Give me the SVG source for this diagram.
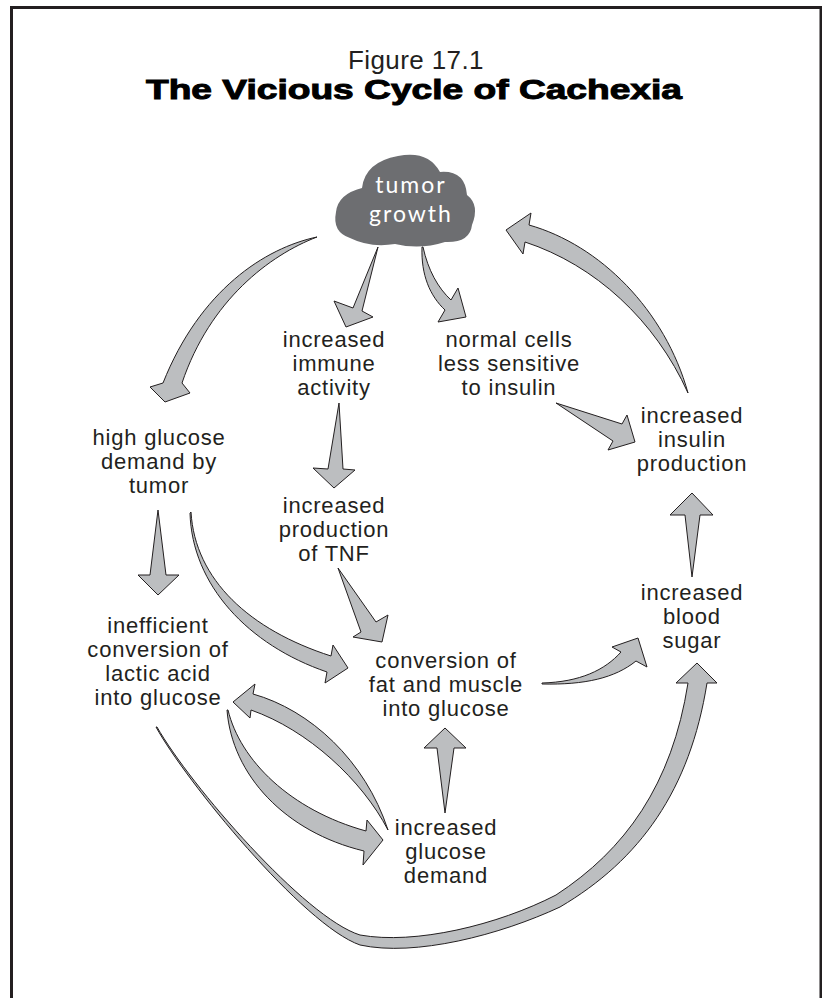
<svg xmlns="http://www.w3.org/2000/svg" width="822" height="998" viewBox="0 0 822 998">
<style>
.arrow{fill:#bcbec0;stroke:#231f20;stroke-width:1;stroke-linejoin:miter}
.lbl{font-family:"Liberation Sans",Arial,sans-serif;font-size:22px;fill:#231f20;text-anchor:middle;letter-spacing:0.8px}
.cl{font-family:Lato,"Open Sans",sans-serif;font-size:23px;fill:#ffffff;text-anchor:middle;letter-spacing:2px}
</style>
<rect x="0" y="0" width="822" height="998" fill="#ffffff"/>
<path d="M11.5,998 V7.5 H821 V998" fill="none" stroke="#231f20" stroke-width="3"/>
<g id="title">
<text x="416" y="69" font-family="Liberation Sans,Arial,sans-serif" font-size="26" fill="#231f20" text-anchor="middle" letter-spacing="0.4">Figure 17.1</text>
<text x="414" y="99" font-family="Liberation Sans,Arial,sans-serif" font-size="28" font-weight="bold" fill="#000" stroke="#000" stroke-width="1" text-anchor="middle" textLength="536" lengthAdjust="spacingAndGlyphs">The Vicious Cycle of Cachexia</text>
</g>
<g id="connectors">
<path class="arrow" d="M317,237 C265,248 200,290 163,383 L150,387 L165,402 L190,393 L182,383 C210,300 270,255 317,237 Z"/>
<path class="arrow" d="M378,247 L353,308 L334,301 L346,327 L373,317 L362,311 Z"/>
<path class="arrow" d="M422,247 C421,275 430,296 445,310 L438,322 L466,317 L458,288 L451,300 C438,288 428,270 423,247 Z"/>
<path class="arrow" d="M688,393 C655,320 595,265 525,242 L523,254 L506,230 L531,213 L529,225 C600,245 665,310 688,393 Z"/>
<path class="arrow" d="M556,403 L622,424 L627,415 L635,442 L608,450 L613,441 Z"/>
<path class="arrow" d="M339,403 L343,469 L355,470 L334,488 L313,468 L328,469 Z"/>
<path class="arrow" d="M158,510 L166,575 L179,575 L158,595 L138,575 L150,575 Z"/>
<path class="arrow" d="M191,512 C195,580 250,630 331,656 L333,645 L348,668 L325,683 L327,672 C248,645 192,585 190,513 Z"/>
<path class="arrow" d="M338,568 L376,622 L388,615 L382,642 L353,637 L361,632 Z"/>
<path class="arrow" d="M542,683 C580,682 605,670 621,652 L612,647 L638,638 L647,667 L636,661 C615,678 585,685 542,684 Z"/>
<path class="arrow" d="M692,577 L700,515 L713,515 L692,493 L670,515 L685,515 Z"/>
<path class="arrow" d="M445,813 L454,748 L466,748 L445,728 L424,748 L437,748 Z"/>
<path class="arrow" d="M388,830 C365,760 310,710 253,694 L255,684 L233,702 L250,718 L251,710 C308,730 362,780 388,830 Z"/>
<path class="arrow" d="M228,710 C240,760 290,810 366,831 L367,820 L383,840 L363,865 L364,851 C285,832 232,775 227,710 Z"/>
<path class="arrow" d="M156,727 C185,780 303,925 360,945 C415,957 500,935 560,907 C640,860 690,790 707,683 L717,683 L697,663 L676,683 L688,683 C672,785 625,850 556,895 C498,925 415,945 360,935 C305,918 190,785 157,727 Z"/>
</g>
<g id="tumor-growth">
<path d="M350,238 Q332,232 336,212 Q338,194 362,188 Q365,162 398,156 Q428,150 440,172 Q465,170 467,195 Q480,205 472,225 Q470,243 445,242 Q420,250 395,244 Q370,248 350,238 Z" fill="#6d6e71"/>
<text class="cl" x="411" y="193">tumor</text>
<text class="cl" x="411" y="222">growth</text>
</g>
<g id="immune-activity">
<text class="lbl"><tspan x="334" y="347">increased</tspan><tspan x="334" y="371">immune</tspan><tspan x="334" y="395">activity</tspan></text>
</g>
<g id="normal-cells">
<text class="lbl"><tspan x="509" y="347">normal cells</tspan><tspan x="509" y="371">less sensitive</tspan><tspan x="509" y="395">to insulin</tspan></text>
</g>
<g id="insulin-production">
<text class="lbl"><tspan x="692" y="423">increased</tspan><tspan x="692" y="447">insulin</tspan><tspan x="692" y="471">production</tspan></text>
</g>
<g id="high-glucose-demand">
<text class="lbl"><tspan x="159" y="445">high glucose</tspan><tspan x="159" y="469">demand by</tspan><tspan x="159" y="493">tumor</tspan></text>
</g>
<g id="tnf">
<text class="lbl"><tspan x="334" y="513">increased</tspan><tspan x="334" y="537">production</tspan><tspan x="334" y="561">of TNF</tspan></text>
</g>
<g id="lactic-acid">
<text class="lbl"><tspan x="158" y="633">inefficient</tspan><tspan x="158" y="657">conversion of</tspan><tspan x="158" y="681">lactic acid</tspan><tspan x="158" y="705">into glucose</tspan></text>
</g>
<g id="fat-muscle">
<text class="lbl"><tspan x="446" y="668">conversion of</tspan><tspan x="446" y="692">fat and muscle</tspan><tspan x="446" y="716">into glucose</tspan></text>
</g>
<g id="blood-sugar">
<text class="lbl"><tspan x="692" y="600">increased</tspan><tspan x="692" y="624">blood</tspan><tspan x="692" y="648">sugar</tspan></text>
</g>
<g id="glucose-demand">
<text class="lbl"><tspan x="446" y="835">increased</tspan><tspan x="446" y="859">glucose</tspan><tspan x="446" y="883">demand</tspan></text>
</g>
</svg>
